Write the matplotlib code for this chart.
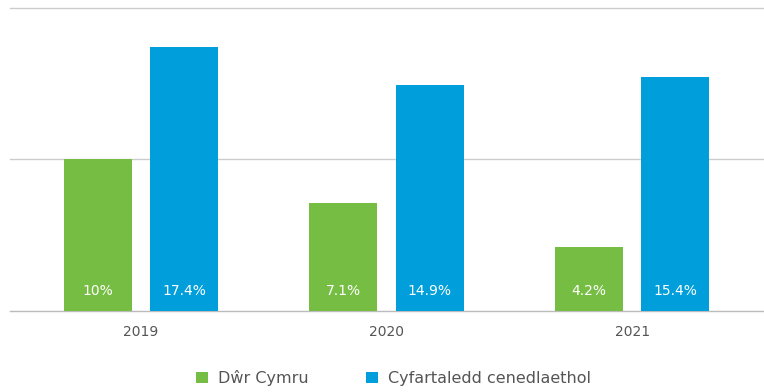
import matplotlib
matplotlib.use("Agg")
import matplotlib.pyplot as plt
from matplotlib.patches import Patch
import numpy as np

years = ["2019", "2020", "2021"]
dwr_cymru = [10.0, 7.1, 4.2]
national_avg = [17.4, 14.9, 15.4]
dwr_labels = ["10%", "7.1%", "4.2%"]
national_labels = ["17.4%", "14.9%", "15.4%"]
series_names = ["Dŵr Cymru", "Cyfartaledd cenedlaethol"]

GREEN = "#76BD43"
BLUE = "#009FDB"
GRID = "#CCCCCC"
TEXT = "#555555"

plt.rcParams["font.family"] = ["DejaVu Sans"]

fig = plt.figure(figsize=(7.64, 3.92), dpi=100)
ax = fig.add_axes([10 / 764, 1 - 311 / 392, 754 / 764, (311 - 7.5) / 392])

x = np.arange(len(years))
width = 0.277
offset = 0.352 / 2

b1 = ax.bar(x - offset, dwr_cymru, width, color=GREEN, zorder=3)
b2 = ax.bar(x + offset, national_avg, width, color=BLUE, zorder=3)

for bars, labels in ((b1, dwr_labels), (b2, national_labels)):
    for rect, lab in zip(bars, labels):
        ax.annotate(lab, (rect.get_x() + rect.get_width() / 2, 0),
                    xytext=(0, 14.5), textcoords="offset points",
                    ha="center", va="center", color="white",
                    fontsize=10, zorder=4)

for yv in (0, 10, 20):
    ax.axhline(yv, color="#BBBBBB" if yv == 0 else GRID, lw=1,
               zorder=1, clip_on=False)

ax.set_xlim(-0.534, 2.537)
ax.set_ylim(0, 20)
ax.set_yticks([])
ax.set_xticks(x)
ax.set_xticklabels(years, color=TEXT, fontsize=10)
ax.tick_params(axis="x", length=0, pad=10)
for s in ax.spines.values():
    s.set_visible(False)

handles = [Patch(facecolor=GREEN, lw=0), Patch(facecolor=BLUE, lw=0)]
fig.legend(handles, series_names, loc="center left",
           bbox_to_anchor=(196 / 764, 1 - 378 / 392),
           ncol=2, frameon=False, fontsize=11.5, handlelength=0.75,
           handleheight=0.75, handletextpad=0.62, columnspacing=3.6,
           borderpad=0, borderaxespad=0, labelcolor=TEXT)

fig.savefig("out.png", dpi=100)
